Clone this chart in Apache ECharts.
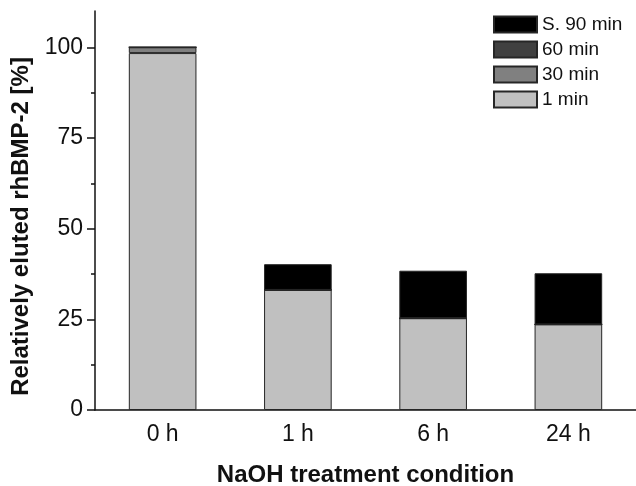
<!DOCTYPE html>
<html>
<head>
<meta charset="utf-8">
<script src="https://cdn.jsdelivr.net/npm/echarts@6/dist/echarts.min.js"></script>
<style>html,body{margin:0;padding:0;background:#fff}#c{width:636px;height:486px}</style>
</head>
<body>
<div id="c"></div>
<script>
var categories = ['0 h', '1 h', '6 h', '24 h'];
var min1 = [98.4, 33.1, 25.3, 23.6];
var min30 = [1.6, 0, 0, 0];
var min60 = [0, 0, 0, 0];
var s90 = [0, 7.1, 13.1, 14.1];
var yMajorTicks = [0, 25, 50, 75, 100];
var yMinorTicks = [12.5, 37.5, 62.5, 87.5];

var font = '"Liberation Sans", Arial, sans-serif';
var chart = echarts.init(document.getElementById('c'));
function bar(name, data, color) {
  return {
    name: name, type: 'bar', stack: 'all', data: data, barWidth: '50%',
    xAxisIndex: 0, yAxisIndex: 0,
    itemStyle: { color: color, borderColor: '#262626', borderWidth: 1 }
  };
}
chart.setOption({
  animation: false,
  textStyle: { fontFamily: font },
  grid: { left: 95, right: 0, top: 11, bottom: 76, containLabel: false, outerBoundsMode: 'none' },
  legend: {
    orient: 'vertical', left: 488, top: 10, itemWidth: 43, itemHeight: 16, itemGap: 6,
    data: ['S. 90 min', '60 min', '30 min', '1 min'],
    textStyle: { fontFamily: font, fontSize: 19, color: '#111', lineHeight: 16 },
    icon: 'rect'
  },
  xAxis: [{
    type: 'category', data: categories,
    axisLine: { lineStyle: { color: '#111', width: 1.5 } },
    axisTick: { alignWithLabel: true, interval: 0, length: 8, lineStyle: { color: '#111', width: 1.5 } },
    axisLabel: { fontSize: 23, color: '#111', margin: 13, fontFamily: font },
    name: 'NaOH treatment condition', nameLocation: 'middle', nameGap: 53,
    nameTextStyle: { fontSize: 24, fontWeight: 'bold', color: '#111', fontFamily: font }
  }, {
    type: 'category', data: categories, position: 'bottom',
    axisLine: { show: false },
    axisTick: { interval: 0, length: 4, lineStyle: { color: '#111', width: 1.5 } },
    axisLabel: { show: false }
  }],
  yAxis: [{
    type: 'value', min: 0, max: 110,
    axisLine: { show: true, lineStyle: { color: '#111', width: 1.5 } },
    axisTick: { show: true, length: 8, customValues: yMajorTicks, lineStyle: { color: '#111', width: 1.5 } },
    axisLabel: { fontSize: 23, color: '#111', margin: 12, customValues: yMajorTicks, fontFamily: font },
    splitLine: { show: false },
    name: 'Relatively eluted rhBMP-2 [%]', nameLocation: 'middle', nameGap: 62,
    nameTextStyle: { fontSize: 24, fontWeight: 'bold', color: '#111', fontFamily: font, padding: [0, 32, 0, 0] }
  }, {
    type: 'value', min: 0, max: 110, position: 'left',
    axisLine: { show: false },
    axisTick: { show: true, length: 4, customValues: yMinorTicks, lineStyle: { color: '#111', width: 1.5 } },
    axisLabel: { show: false },
    splitLine: { show: false }
  }],
  series: [
    bar('1 min', min1, '#c0c0c0'),
    bar('30 min', min30, '#808080'),
    bar('60 min', min60, '#404040'),
    bar('S. 90 min', s90, '#000000')
  ]
});
</script>
</body>
</html>
